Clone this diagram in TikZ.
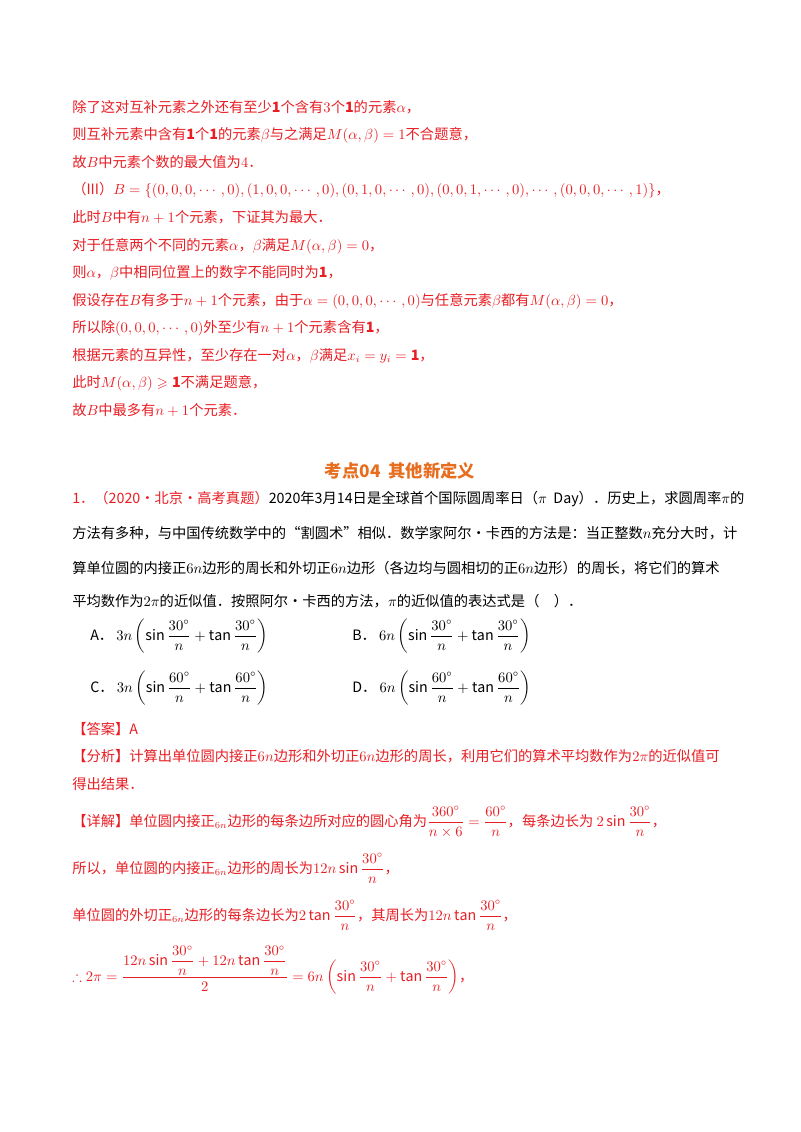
\documentclass[tikz,border=0pt]{standalone}
\usepackage{fontspec}
\usepackage{amsmath,amssymb}
\setmainfont{Noto Sans CJK SC}
\definecolor{rd}{RGB}{232,30,36}
\definecolor{og}{RGB}{230,110,30}
\begin{document}
\begin{tikzpicture}[x=0.75pt,y=-0.75pt,
  ln/.style={anchor=base west,inner sep=0pt,font=\fontsize{10.7}{12}\selectfont},
  rl/.style={ln,text=rd}]
\useasboundingbox (0,0) rectangle (800,1132);
\fill[white] (0,0) rectangle (800,1132);
\node[rl] (l1) at (72,112) {除了这对互补元素之外还有至少$\mathbf{1}$个含有$3$个$\mathbf{1}$的元素$\alpha$，};
\node[rl] (l2) at (72,139) {则互补元素中含有$\mathbf{1}$个$\mathbf{1}$的元素$\beta$与之满足$M(\alpha,\beta)=1$不合题意，};
\node[rl] (l3) at (72,167) {故$B$中元素个数的最大值为$4$．};
\node[rl] (l4) at (72,194) {（III）$B=\{(0,0,0,\cdots,0),(1,0,0,\cdots,0),(0,1,0,\cdots,0),(0,0,1,\cdots,0),\cdots,(0,0,0,\cdots,1)\}$，};
\node[rl] (l5) at (72,222) {此时$B$中有$n+1$个元素，下证其为最大．};
\node[rl] (l6) at (72,250) {对于任意两个不同的元素$\alpha$，$\beta$满足$M(\alpha,\beta)=0$，};
\node[rl] (l7) at (72,277) {则$\alpha$，$\beta$中相同位置上的数字不能同时为$\mathbf{1}$，};
\node[rl] (l8) at (72,305) {假设存在$B$有多于$n+1$个元素，由于$\alpha=(0,0,0,\cdots,0)$与任意元素$\beta$都有$M(\alpha,\beta)=0$，};
\node[rl] (l9) at (72,332) {所以除$(0,0,0,\cdots,0)$外至少有$n+1$个元素含有$\mathbf{1}$，};
\node[rl] (l10) at (72,360) {根据元素的互异性，至少存在一对$\alpha$，$\beta$满足$x_i=y_i=\mathbf{1}$，};
\node[rl] (l11) at (72,387) {此时$M(\alpha,\beta)\geqslant\mathbf{1}$不满足题意，};
\node[rl] (l12) at (72,415) {故$B$中最多有$n+1$个元素．};
\node[anchor=base,inner sep=0pt,text=og,font=\fontsize{13}{15}\bfseries\selectfont] (t) at (400,477) {考点04\ \ 其他新定义};
\node[ln] (p1) at (72,503) {\textcolor{rd}{1．（2020·北京·高考真题）}2020年3月14日是全球首个国际圆周率日（$\pi$\ \ Day）．历史上，求圆周率$\pi$的};
\node[ln] (p2) at (72,538) {方法有多种，与中国传统数学中的“割圆术”相似．数学家阿尔·卡西的方法是：当正整数$n$充分大时，计};
\node[ln] (p3) at (72,573) {算单位圆的内接正$6n$边形的周长和外切正$6n$边形（各边均与圆相切的正$6n$边形）的周长，将它们的算术};
\node[ln] (p4) at (72,606) {平均数作为$2\pi$的近似值．按照阿尔·卡西的方法，$\pi$的近似值的表达式是（\quad ）．};
\node[ln] (oa) at (90,640) {A．\ $3n\left(\sin\dfrac{30^\circ}{n}+\tan\dfrac{30^\circ}{n}\right)$};
\node[ln] (ob) at (352,640) {B．\ $6n\left(\sin\dfrac{30^\circ}{n}+\tan\dfrac{30^\circ}{n}\right)$};
\node[ln] (oc) at (90,692) {C．\ $3n\left(\sin\dfrac{60^\circ}{n}+\tan\dfrac{60^\circ}{n}\right)$};
\node[ln] (od) at (352,692) {D．\ $6n\left(\sin\dfrac{60^\circ}{n}+\tan\dfrac{60^\circ}{n}\right)$};
\node[rl] (ans) at (72,734) {【答案】A};
\node[rl] (an1) at (72,761) {【分析】计算出单位圆内接正$6n$边形和外切正$6n$边形的周长，利用它们的算术平均数作为$2\pi$的近似值可};
\node[rl] (an2) at (72,789) {得出结果．};
\node[rl] (d1) at (72,826) {【详解】单位圆内接正$_{6n}$边形的每条边所对应的圆心角为$\dfrac{360^\circ}{n\times6}=\dfrac{60^\circ}{n}$，每条边长为\ $2\sin\dfrac{30^\circ}{n}$，};
\node[rl] (d2) at (72,873) {所以，单位圆的内接正$_{6n}$边形的周长为$12n\sin\dfrac{30^\circ}{n}$，};
\node[rl] (d3) at (72,920) {单位圆的外切正$_{6n}$边形的每条边长为$2\tan\dfrac{30^\circ}{n}$，其周长为$12n\tan\dfrac{30^\circ}{n}$，};
\node[rl] (d4) at (72,981) {$\therefore2\pi=\dfrac{12n\sin\dfrac{30^\circ}{n}+12n\tan\dfrac{30^\circ}{n}}{2}=6n\left(\sin\dfrac{30^\circ}{n}+\tan\dfrac{30^\circ}{n}\right)$，};
\end{tikzpicture}
\end{document}
